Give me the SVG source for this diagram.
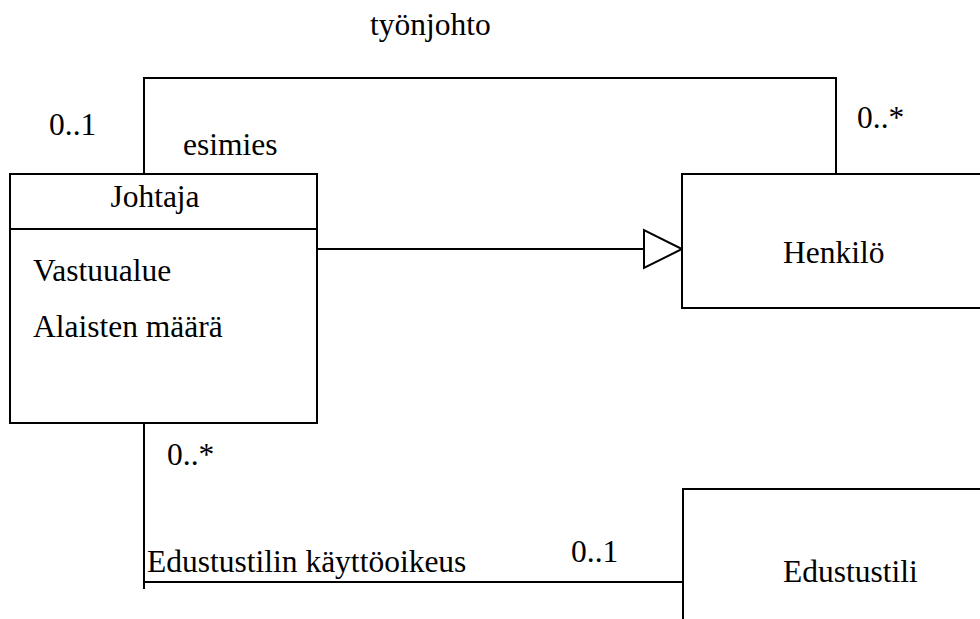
<svg xmlns="http://www.w3.org/2000/svg" width="980" height="619" viewBox="0 0 980 619" font-family="'Liberation Serif', 'Times New Roman', Times, serif">
<style>
.box{fill:#fff;stroke:#000;stroke-width:2}
.ln{fill:none;stroke:#000;stroke-width:2}
.t{font-family:'Liberation Serif','Times New Roman',Times,serif;font-size:31.5px;fill:#000}
</style>
<rect width="980" height="619" fill="#fff"/>
<g id="connectors">
<path class="ln" d="M144,174 V78 H836 V174"/>
<path class="ln" d="M317,249 H644"/>
<polygon class="box" points="644,230 644,268 682,249"/>
<path class="ln" d="M144,417 V589"/>
<path class="ln" d="M144,582 H683"/>
<text class="t" x="370" y="35">työnjohto</text>
<text class="t" x="49" y="135">0..1</text>
<text class="t" x="183" y="155">esimies</text>
<text class="t" x="857" y="128">0..*</text>
<text class="t" x="167" y="465">0..*</text>
<text class="t" x="147" y="572">Edustustilin käyttöoikeus</text>
<text class="t" x="571" y="562">0..1</text>
</g>
<g id="johtaja">
<rect class="box" x="10" y="174" width="307" height="249"/>
<line class="ln" x1="10" y1="229" x2="317" y2="229"/>
<text class="t" x="155" y="207" text-anchor="middle">Johtaja</text>
<text class="t" x="33" y="281">Vastuualue</text>
<text class="t" x="33" y="337">Alaisten määrä</text>
</g>
<g id="henkilo">
<rect class="box" x="682" y="174" width="320" height="134"/>
<text class="t" x="783" y="263">Henkilö</text>
</g>
<g id="edustustili">
<rect class="box" x="683" y="489" width="320" height="160"/>
<text class="t" x="783" y="582">Edustustili</text>
</g>
</svg>
